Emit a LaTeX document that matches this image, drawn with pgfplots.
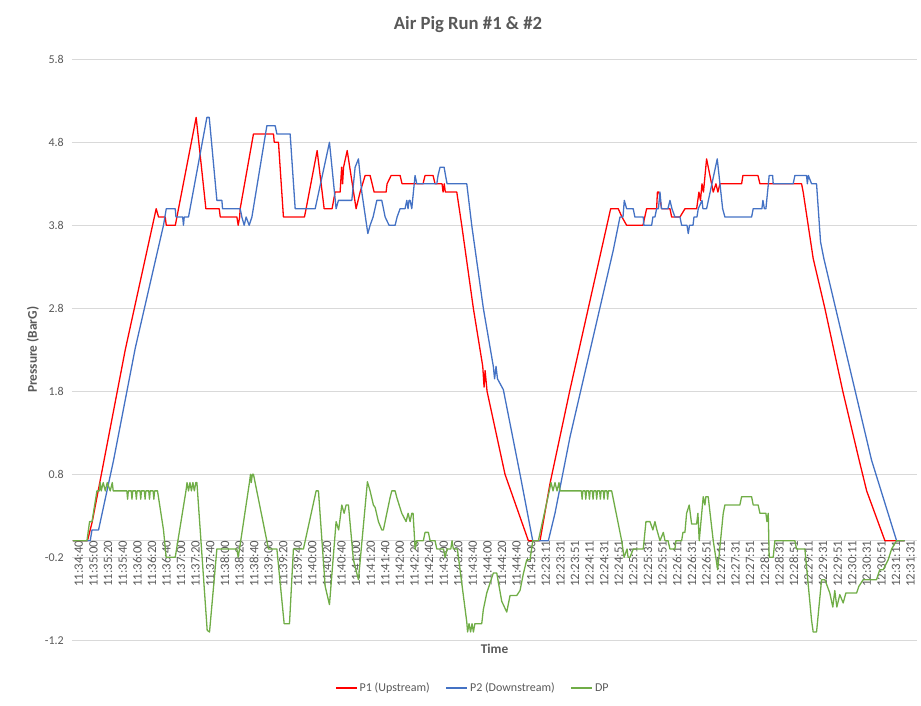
\documentclass[border=0pt]{standalone}
\usepackage{pgfplots}
\pgfplotsset{compat=1.18}
\usepackage{fontspec}
\setmainfont{Carlito}
\definecolor{txt}{HTML}{595959}
\definecolor{gridc}{HTML}{D9D9D9}
\definecolor{pone}{HTML}{FF0000}
\definecolor{ptwo}{HTML}{4472C4}
\definecolor{dpc}{HTML}{70AD47}
\begin{document}
\begin{tikzpicture}
\begin{axis}[
  scale only axis, width=845bp, height=581bp,
  xmin=-1.2, xmax=1157, ymin=-1.2, ymax=5.8,
  axis x line=middle, axis y line=left,
  axis line style={-},
  x axis line style={draw=gridc, line width=0.75bp},
  y axis line style={draw=none},
  major tick length=0pt,
  ymajorgrids, grid style={draw=gridc, line width=0.75bp},
  ytick={-1.2,-0.2,0.8,1.8,2.8,3.8,4.8,5.8},
  yticklabels={-1.2,-0.2,0.8,1.8,2.8,3.8,4.8,5.8},
  xtick={0,20,...,1140},
  xticklabels={11:34:40,11:35:00,11:35:20,11:35:40,11:36:00,11:36:20,11:36:40,11:37:00,11:37:20,11:37:40,11:38:00,11:38:20,11:38:40,11:39:00,11:39:20,11:39:40,11:40:00,11:40:20,11:40:40,11:41:00,11:41:20,11:41:40,11:42:00,11:42:20,11:42:40,11:43:00,11:43:20,11:43:40,11:44:00,11:44:20,11:44:40,11:45:00,12:23:11,12:23:31,12:23:51,12:24:11,12:24:31,12:24:51,12:25:11,12:25:31,12:25:51,12:26:11,12:26:31,12:26:51,12:27:11,12:27:31,12:27:51,12:28:11,12:28:31,12:28:51,12:29:11,12:29:31,12:29:51,12:30:11,12:30:31,12:30:51,12:31:11,12:31:31},
  tick label style={font=\fontsize{12bp}{14bp}\selectfont, text=txt},
  xticklabel style={rotate=90, anchor=east, inner sep=0pt, yshift=-6bp, font=\fontsize{12.8bp}{14bp}\selectfont},
  yticklabel style={anchor=east, inner sep=0pt, xshift=-8bp},
  every axis x label/.style={at={(rel axis cs:0.5,-0.015)}, anchor=center},
  every axis y label/.style={at={(rel axis cs:-0.04615,0.5)}, rotate=90, anchor=center},
  label style={font=\bfseries\fontsize{13.33bp}{16bp}\selectfont, text=txt},
  xlabel={Time},
  ylabel={Pressure (BarG)},
  title={Air Pig Run \#1 \& \#2},
  title style={at={(rel axis cs:0.4686,1.0504)}, anchor=center, font=\bfseries\fontsize{18.67bp}{22bp}\selectfont, text=txt},
  legend style={at={(rel axis cs:0.4746,-0.082)}, anchor=center, draw=none, fill=none, legend columns=3, font=\fontsize{12bp}{14bp}\selectfont, text=txt, /tikz/every even column/.append style={column sep=14bp}},
  legend image code/.code={\draw[#1] (0bp,0bp) -- (21bp,0bp);},
]
\addplot[pone, line width=1.3bp, line join=round] coordinates {
(0,0) (20,0) (26.6,0.23) (71.8,2.3) (114.2,4.0) (117.4,3.9) (126.6,3.9) (128,3.8) (140.4,3.8) (169,5.1) (182.3,4.0) (200.6,4.0) (202,3.9) (224.8,3.9) (226.6,3.8) (228.6,3.9) (229.3,4.0) (247.5,4.9) (275,4.9) (276,4.8) (281.8,4.8) (288.6,3.9) (317.4,3.9) (319.7,4.0) (334.8,4.7) (344.4,4.0) (355.3,4.0) (359.4,4.2) (366.3,4.2) (368.4,4.5) (369.7,4.3) (371,4.5) (376,4.7) (388.2,4.0) (393.7,4.2) (400.6,4.4) (407.4,4.4) (410.2,4.3) (412.9,4.2) (429.3,4.2) (430.7,4.3) (436.2,4.4) (448.5,4.4) (451.2,4.3) (480,4.3) (482.7,4.4) (493.7,4.4) (496.4,4.3) (506,4.3) (507.4,4.2) (509,4.3) (510.5,4.2) (526.2,4.2) (533,3.8) (548.9,2.8) (561.8,2.1) (563.6,1.85) (565,2.05) (567.7,1.8) (592.3,0.8) (624.3,0) (640.3,0) (654,0.69) (681.4,1.82) (737.1,4.0) (747.5,4.0) (752.6,3.9) (759,3.8) (781.4,3.8) (786.4,4.0) (800.1,4.0) (801.2,4.2) (803.3,4.2) (807,4.0) (818.4,4.0) (820.7,3.9) (832.1,3.9) (839,4.0) (855,4.0) (858.1,4.2) (860.2,4.1) (862.3,4.3) (864.3,4.2) (868.6,4.6) (877.7,4.2) (881.4,4.3) (884.1,4.2) (886.9,4.3) (916.6,4.3) (918.4,4.4) (939,4.4) (941.7,4.3) (998.8,4.3) (1001,4.2) (1014.7,3.4) (1030.7,2.8) (1055.3,1.8) (1077.7,0.97) (1088,0.6) (1113,0) (1140,0)
};
\addlegendentry{P1 (Upstream)}
\addplot[ptwo, line width=1.3bp, line join=round] coordinates {
(0,0) (23.8,0) (26.2,0.13) (35.2,0.13) (55.8,0.97) (85.5,2.32) (124.2,3.8) (128,4.0) (140.3,4.0) (141.3,3.9) (150.5,3.9) (151.6,3.8) (152.6,3.9) (158.5,3.9) (183.7,5.1) (186.9,5.1) (197.4,4.1) (204.3,4.1) (205.1,4.0) (229.3,4.0) (231.6,3.9) (234.8,3.8) (237.5,3.9) (241.6,3.8) (245.4,3.9) (265.9,5.0) (277.3,5.0) (279.6,4.9) (297.8,4.9) (304.7,4.0) (332.1,4.0) (351.7,4.8) (360.8,4.0) (364,4.1) (382.3,4.1) (386.9,4.5) (391.4,4.6) (396,4.2) (404.3,3.7) (407.4,3.8) (411.5,3.9) (416.6,4.1) (423.4,4.1) (428,3.9) (433.4,3.8) (441.7,3.8) (444.4,3.9) (448.5,4.0) (455.3,4.0) (457.7,4.1) (459.4,4.0) (460.8,4.1) (462.2,4.1) (464.5,4.0) (469,4.4) (471.4,4.3) (498.8,4.3) (500.5,4.4) (503.3,4.5) (508.8,4.5) (510.8,4.4) (512.9,4.3) (539.9,4.3) (546.7,3.8) (562.6,2.8) (576.3,2.1) (578,1.95) (580,2.1) (582,1.95) (590,1.82) (612.9,0.8) (630.3,0) (651.7,0) (660.8,0.33) (681.4,1.25) (740.7,3.5) (749.9,3.9) (754,3.9) (755.8,4.1) (759,4.0) (768,4.0) (770.3,3.9) (781.8,3.9) (782.7,3.8) (793.3,3.8) (795,3.9) (797.8,3.9) (800.1,4.0) (802.6,4.0) (804.7,4.2) (806.7,4.0) (815.6,4.0) (818.4,4.1) (821.1,4.0) (825.2,3.9) (832.1,3.9) (834.4,3.8) (841.7,3.8) (843.5,3.7) (845.2,3.8) (850,3.8) (851.3,3.9) (855.4,3.9) (857.2,4.0) (862.3,4.1) (863.6,4.0) (868.6,4.0) (883.2,4.6) (886.9,4.3) (890.6,4.0) (893.7,3.9) (930.3,3.9) (932.5,4.0) (944.4,4.0) (945.8,4.1) (947.8,4.0) (949.9,4.0) (954.4,4.4) (959.1,4.4) (959.9,4.3) (987.3,4.3) (989.6,4.4) (1005.6,4.4) (1006.7,4.3) (1008.1,4.4) (1012.5,4.3) (1019.3,4.3) (1024.8,3.6) (1029.3,3.4) (1094.7,0.97) (1129,0) (1140,0)
};
\addlegendentry{P2 (Downstream)}
\addplot[dpc, line width=1.3bp, line join=round] coordinates {
(0,0) (19.3,0) (22.9,0.23) (26.2,0.23) (33,0.6) (36.2,0.6) (37.5,0.7) (38.9,0.6) (41.6,0.7) (44.4,0.6) (47.1,0.7) (51.2,0.6) (54,0.7) (55.3,0.6)
(74,0.6) (75,0.5) (76,0.6) (80,0.6) (81,0.5) (82,0.6) (86,0.6) (87,0.5) (88,0.6) (92,0.6) (93,0.5) (94,0.6) (98,0.6) (99,0.5) (100,0.6) (104,0.6) (105,0.5) (106,0.6) (110,0.6) (111,0.5) (112,0.6)
(116,0.6) (124.2,0.13) (127.9,-0.2) (140.3,-0.2) (155,0.6) (156.5,0.7) (158.5,0.6) (160.5,0.7) (162.5,0.6) (164.5,0.7) (166.5,0.6) (168.5,0.7) (170,0.7) (184.1,-1.08) (187.3,-1.1) (197.4,-0.1) (224.8,-0.1) (226.6,-0.2) (228.4,-0.1) (242,0.7) (243.5,0.8) (244.5,0.7) (246,0.8) (247.5,0.8) (268.1,-0.1) (279.6,-0.1) (289.6,-1.0) (296.9,-1.0) (302.3,-0.1) (316,-0.1) (333.4,0.6) (336.6,0.6) (345.8,-0.55) (351.7,-0.77) (360.8,0.23) (364.3,0.13) (368.6,0.43) (371.8,0.33) (374.5,0.43) (377.7,0.43) (384.5,-0.23) (391.4,-0.47) (403.7,0.71) (407.4,0.6) (411.9,0.43) (414.3,0.4) (418.8,0.23) (423.4,0.13) (425.6,0.13) (430.3,0.33) (434.8,0.52) (437.1,0.6) (441.7,0.6) (444,0.52) (450.8,0.33) (456.7,0.23) (459.5,0.33) (462.2,0.23) (464.5,0.33) (466.3,0.33) (469.1,-0.1) (471.4,0) (480.4,0) (482.7,0.1) (487.3,0.1) (489.6,0) (496.4,0) (498.8,-0.1) (508,-0.1) (510.2,-0.2) (512.9,-0.1) (518,-0.1) (519.7,0) (521.5,-0.1) (527,-0.1) (533,-0.51) (539.9,-0.98) (541,-1.1) (543,-1.0) (545.1,-1.1) (547.1,-1.0) (549,-1.1) (551,-1.0) (560.4,-1.0) (562.6,-0.83) (567.3,-0.63) (576.3,-0.39) (581,-0.39) (587.8,-0.73) (594.7,-0.86) (599.2,-0.66) (608.4,-0.66) (612.9,-0.6) (617.4,-0.4) (622.1,-0.23) (626.6,-0.23) (630.3,0) (638,0) (653,0.6) (655.4,0.7) (658.1,0.6) (660.8,0.7) (663.6,0.6) (666.3,0.7) (667.7,0.6)
(697,0.6) (698,0.5) (699,0.6) (702,0.6) (703,0.5) (704,0.6) (707,0.6) (708,0.5) (709,0.6) (712,0.6) (713,0.5) (714,0.6) (717,0.6) (718,0.5) (719,0.6) (722,0.6) (723,0.5) (724,0.6) (727,0.6) (728,0.5) (729,0.6) (732,0.6) (733,0.5) (734,0.6) (738.5,0.6)
(752.2,0) (755.5,-0.2) (759.6,-0.1) (761,-0.2) (763.6,-0.2) (768.1,-0.1) (781.8,-0.1) (785.5,0.23) (791,0.23) (795,0.13) (797.8,0.23) (800.5,0.13) (804.7,0) (809.3,0.1) (811.6,0) (815.7,0) (818.4,-0.1) (825.2,-0.1) (826.6,0) (834.4,0) (836.2,0.1) (838.9,0.1) (841.2,0.33) (844.8,0.43) (848.1,0.2) (854.9,0.2) (856.7,0.33) (858.5,0) (864,0.53) (866.3,0.43) (867.6,0.53) (870.8,0.53) (877.7,0) (883.8,-0.35) (891.4,0.33) (893.7,0.43) (914.2,0.43) (916.6,0.53) (930.3,0.53) (932.5,0.43) (939.3,0.43) (941.7,0.33) (949.9,0.33) (951.3,0.23) (953.1,0.33) (954.4,-0.2) (959.9,-0.2) (962.2,0) (989.6,0) (991.9,-0.1) (1003.3,-0.1) (1012.5,-0.96) (1014.7,-1.1) (1019.3,-1.1) (1026.2,-0.47) (1030.7,-0.47) (1037.5,-0.63) (1041.6,-0.8) (1044.3,-0.6) (1047.1,-0.8) (1051.2,-0.65) (1055.8,-0.75) (1059.5,-0.63) (1074.2,-0.63) (1077.3,-0.55) (1083.2,-0.47) (1101.5,-0.47) (1106,-0.35) (1110.6,-0.35) (1117.5,-0.23) (1122.2,-0.1) (1129,0) (1140,0)
};
\addlegendentry{DP}
\coordinate (bbSW) at (rel axis cs:-0.08521,-0.11308);
\coordinate (bbNE) at (rel axis cs:1.00473,1.10207);
\end{axis}
\path (bbSW) rectangle (bbNE);
\end{tikzpicture}
\end{document}
